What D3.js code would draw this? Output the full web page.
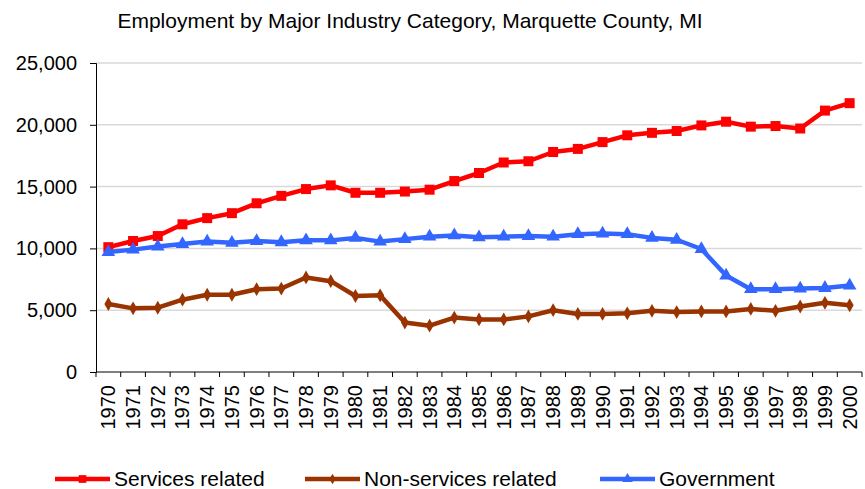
<!DOCTYPE html>
<html>
<head>
<meta charset="utf-8">
<script src="https://d3js.org/d3.v7.min.js"></script>
<style>
  body { margin: 0; background: #fff; }
  text { font-family: "Liberation Sans", Arial, sans-serif; fill: #000; }
</style>
</head>
<body>
<div id="chart"></div>
<script>
// Data
const years = d3.range(1970, 2001).map(String);
const services = [10100, 10600, 11000, 11950, 12450, 12850, 13650, 14250, 14800, 15100,
  14500, 14500, 14600, 14750, 15450, 16100, 16950, 17050, 17800, 18050,
  18600, 19150, 19350, 19500, 19950, 20250, 19850, 19900, 19700, 21150, 21750];
const nonServices = [5500, 5150, 5200, 5850, 6250, 6250, 6700, 6750, 7650, 7350,
  6150, 6200, 4000, 3750, 4400, 4250, 4250, 4500, 5000, 4700,
  4700, 4750, 4950, 4850, 4900, 4900, 5100, 4950, 5300, 5600, 5400];
const government = [9700, 9900, 10150, 10350, 10550, 10450, 10600, 10500, 10650, 10650,
  10850, 10550, 10750, 10950, 11050, 10900, 10950, 11000, 10950, 11150,
  11200, 11150, 10850, 10700, 9950, 7800, 6700, 6700, 6750, 6800, 7000];
const yTicks = [0, 5000, 10000, 15000, 20000, 25000];

const seriesList = [
  { name: "Services related", values: services, color: "#ff0000", marker: d3.symbolSquare, size: 100 },
  { name: "Non-services related", values: nonServices, color: "#993300", marker: d3.symbolDiamond, size: 55 },
  { name: "Government", values: government, color: "#3366ff", marker: d3.symbolTriangle, size: 80 }
];

const width = 865, height = 489;
const margin = { top: 63, right: 3, bottom: 117, left: 96 };

const svg = d3.select("#chart").append("svg")
  .attr("width", width)
  .attr("height", height);

const x = d3.scaleBand()
  .domain(years)
  .range([margin.left, width - margin.right]);

const y = d3.scaleLinear()
  .domain([0, 25000])
  .range([height - margin.bottom, margin.top]);

// gridlines
svg.append("g")
  .selectAll("line")
  .data(yTicks.filter(d => d > 0))
  .join("line")
  .attr("x1", margin.left)
  .attr("x2", width - margin.right)
  .attr("y1", d => y(d))
  .attr("y2", d => y(d))
  .attr("stroke", "#d9d9d9")
  .attr("stroke-width", 1.5);

// y axis
const yAxis = svg.append("g")
  .attr("transform", `translate(${margin.left},0)`)
  .call(d3.axisLeft(y).tickValues(yTicks).tickFormat(d3.format(",")).tickSize(6).tickPadding(13));
yAxis.select(".domain").attr("stroke", "#000");
yAxis.selectAll(".tick line").attr("stroke", "#000");
yAxis.selectAll("text").style("font-size", "20px").attr("fill", "#000");

// x axis with ticks at category boundaries
const xAxisG = svg.append("g")
  .attr("transform", `translate(0,${height - margin.bottom})`);
xAxisG.append("line")
  .attr("x1", margin.left).attr("x2", width - margin.right)
  .attr("stroke", "#000");
xAxisG.selectAll(".bt")
  .data(years.concat(["end"]))
  .join("line")
  .attr("x1", (d, i) => i < years.length ? x(d) : x.range()[1])
  .attr("x2", (d, i) => i < years.length ? x(d) : x.range()[1])
  .attr("y1", 0).attr("y2", 5)
  .attr("stroke", "#000");
xAxisG.selectAll(".lbl")
  .data(years)
  .join("text")
  .attr("transform", d => `translate(${x(d) + x.bandwidth() / 2 + 7},${13}) rotate(-90)`)
  .attr("text-anchor", "end")
  .style("font-size", "20px")
  .text(d => d);

// lines
const line = d3.line()
  .x((d, i) => x(years[i]) + x.bandwidth() / 2)
  .y(d => y(d));

seriesList.forEach(s => {
  svg.append("path")
    .datum(s.values)
    .attr("fill", "none")
    .attr("stroke", s.color)
    .attr("stroke-width", 4.5)
    .attr("stroke-linejoin", "round")
    .attr("d", line);
  svg.append("g")
    .selectAll("path")
    .data(s.values)
    .join("path")
    .attr("transform", (d, i) => `translate(${x(years[i]) + x.bandwidth() / 2},${y(d)})`)
    .attr("d", d3.symbol().type(s.marker).size(s.size))
    .attr("fill", s.color);
});

// title
svg.append("text")
  .attr("x", 410)
  .attr("y", 28)
  .attr("text-anchor", "middle")
  .style("font-size", "21px")
  .text("Employment by Major Industry Category, Marquette County, MI");

// legend
const legendX = [55, 305, 600];
const legend = svg.append("g");
seriesList.forEach((s, i) => {
  const g = legend.append("g").attr("transform", `translate(${legendX[i]},479)`);
  g.append("line")
    .attr("x1", 0).attr("x2", 55)
    .attr("stroke", s.color).attr("stroke-width", 4.5);
  g.append("path")
    .attr("transform", "translate(27.5,0)")
    .attr("d", d3.symbol().type(s.marker).size(s.size * 0.6))
    .attr("fill", s.color);
  g.append("text")
    .attr("x", 59)
    .attr("y", 7)
    .style("font-size", "21px")
    .text(s.name);
});
</script>
</body>
</html>
